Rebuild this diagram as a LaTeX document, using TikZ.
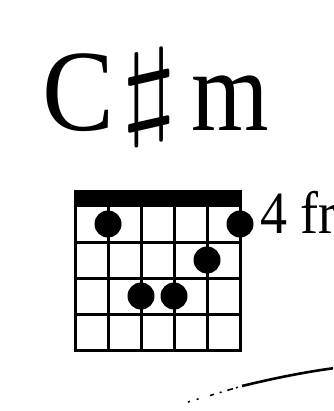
\documentclass[tikz,border=0pt]{standalone}
\usepackage{fontspec}
\setmainfont{Liberation Serif}
\begin{document}
\begin{tikzpicture}[x=1pt,y=-1pt,
  gridline/.style={line width=3pt},
  fingerdot/.style={circle,fill=black,minimum size=27pt,inner sep=0pt},
  chordtitle/.style={inner sep=0pt,anchor=base west,font=\fontsize{116}{116}\selectfont},
  fretlabel/.style={inner sep=0pt,anchor=base west,font=\fontsize{60}{60}\selectfont}]
\useasboundingbox (0,0) rectangle (333,411);
\clip (0,0) rectangle (333,411);
% title
\node[chordtitle] (title) at (42,131) {\scalebox{0.93}[1]{C}\hspace{6pt}\raisebox{6.4pt}{\scalebox{14.8}[10.85]{\normalsize$\sharp$}}\hspace{14pt}\scalebox{0.86}[1]{m}};
% nut bar
\fill (74,190) rectangle (241,207);
% strings
\foreach \x in {75,108,141,174,207,240} \draw[gridline] (\x,190) -- (\x,351.5);
% frets
\foreach \y in {242,278,314,350} \draw[gridline] (73.5,\y) -- (241.5,\y);
% dots
\node[fingerdot] (d1) at (108,224) {};
\node[fingerdot] (d2) at (240,224) {};
\node[fingerdot] (d3) at (207,260) {};
\node[fingerdot] (d4) at (141,296) {};
\node[fingerdot] (d5) at (174,296) {};
% fret label
\node[fretlabel] (fr) at (260,233) {\scalebox{0.9}[1]{4 fr}};
% curve
\coordinate (c0) at (188,402);
\coordinate (c1) at (242,386);
\coordinate (c2) at (335,368);
\draw[line width=1.6pt, dash pattern=on 2pt off 7pt on 2pt off 12pt on 4pt off 6pt on 2pt off 6pt on 6pt off 3pt] (c0) -- (c1);
\draw[line width=2.6pt] (c1) .. controls (275,378) and (305,372) .. (c2);
\end{tikzpicture}
\end{document}
